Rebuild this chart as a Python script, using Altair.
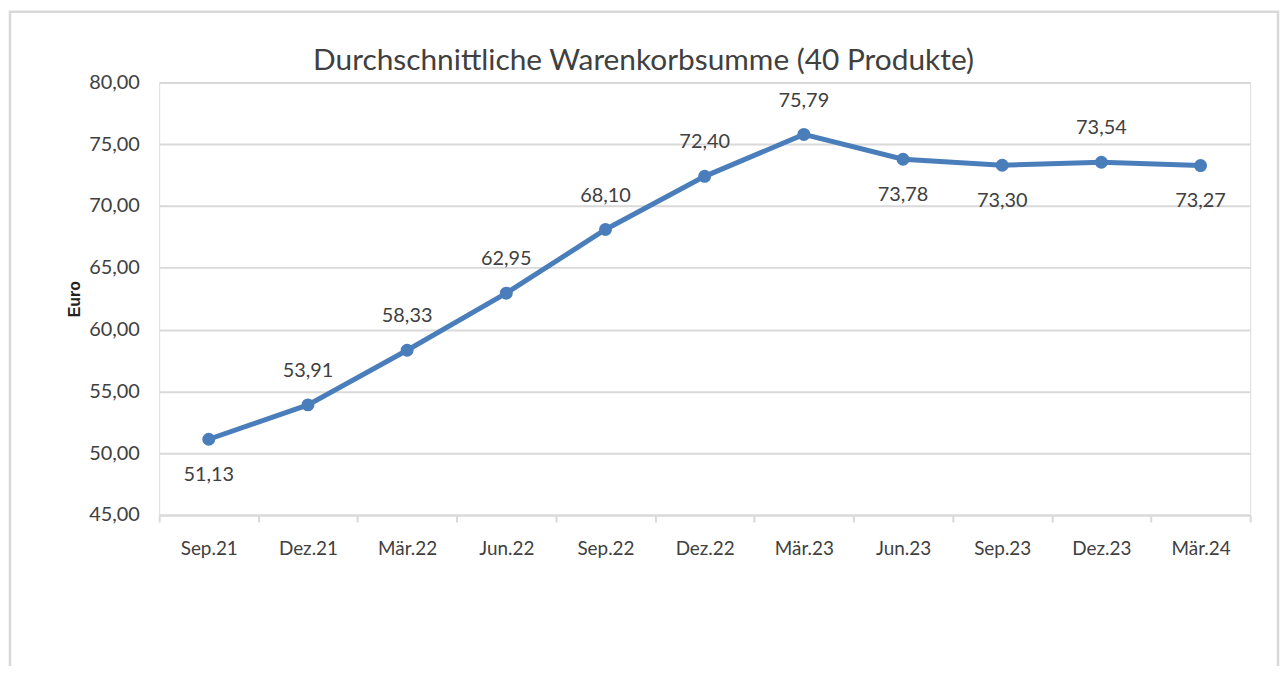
import altair as alt
import pandas as pd

categories = ["Sep.21", "Dez.21", "Mär.22", "Jun.22", "Sep.22", "Dez.22",
              "Mär.23", "Jun.23", "Sep.23", "Dez.23", "Mär.24"]
values = [51.13, 53.91, 58.33, 62.95, 68.10, 72.40, 75.79, 73.78, 73.30, 73.54, 73.27]
label_above = [False, True, True, True, True, True, True, False, False, True, False]
y_ticks = [45, 50, 55, 60, 65, 70, 75, 80]
title_text = "Durchschnittliche Warenkorbsumme (40 Produkte)"

FONT = "Lato, Open Sans, sans-serif"
TXT = "#404040"
GRID = "#D9D9D9"
BLUE = "#4A7EBB"

df = pd.DataFrame({
    "Monat": categories,
    "Wert": values,
    "Label": [f"{v:.2f}".replace(".", ",") for v in values],
    "above": label_above,
})

W, H = 1097, 435

x_enc = alt.X("Monat:N", sort=categories, bandPosition=0.5,
              scale=alt.Scale(type="band", paddingInner=0, paddingOuter=0),
              axis=alt.Axis(title=None, tickBand="extent", labelAngle=0,
                            labelFont=FONT, labelFontSize=19, labelColor=TXT,
                            labelPadding=18, tickSize=7, tickColor=GRID, tickWidth=2,
                            domainColor=GRID, domainWidth=2, grid=False))
y_enc = alt.Y("Wert:Q", scale=alt.Scale(domain=[45, 80], nice=False, zero=False),
              axis=alt.Axis(title="Euro", values=y_ticks,
                            labelExpr="replace(format(datum.value, '.2f'), '.', ',')",
                            labelFont=FONT, labelFontSize=20, labelColor=TXT,
                            labelPadding=20, ticks=False, domain=False,
                            grid=True, gridColor=GRID, gridWidth=2,
                            titleFont="Liberation Sans", titleFontSize=16,
                            titleFontWeight="bold", titleColor="#222222",
                            titlePadding=6))

base = alt.Chart(df)

line = base.mark_line(color=BLUE, strokeWidth=5).encode(x=x_enc, y=y_enc)
pts = base.mark_circle(color=BLUE, size=170, opacity=1).encode(x=x_enc, y="Wert:Q")
lab_up = base.transform_filter("datum.above").mark_text(
    font=FONT, fontSize=20, color=TXT, dy=-34, baseline="middle"
).encode(x=x_enc, y="Wert:Q", text="Label:N")
lab_dn = base.transform_filter("!datum.above").mark_text(
    font=FONT, fontSize=20, color=TXT, dy=36, baseline="middle"
).encode(x=x_enc, y="Wert:Q", text="Label:N")

one = pd.DataFrame({"t": [title_text]})
border = alt.Chart(one).mark_rect(
    fill=None, stroke=GRID, strokeWidth=2.5, clip=False
).encode(x=alt.value(-150), x2=alt.value(W + 28),
         y=alt.value(-71), y2=alt.value(H + 300))
title = alt.Chart(one).mark_text(
    font=FONT, fontSize=30, color=TXT, align="center", baseline="middle"
).encode(x=alt.value(487), y=alt.value(-21), text="t:N")

chart = alt.layer(border, line, pts, lab_up, lab_dn, title).properties(
    width=W, height=H,
    padding={"left": 152, "top": 73, "right": 30, "bottom": 150},
    autosize=alt.AutoSizeParams(type="none"),
).configure_view(stroke=None).configure(background="white")

chart.save("out.html", embed_options={"renderer": "svg", "actions": False})
